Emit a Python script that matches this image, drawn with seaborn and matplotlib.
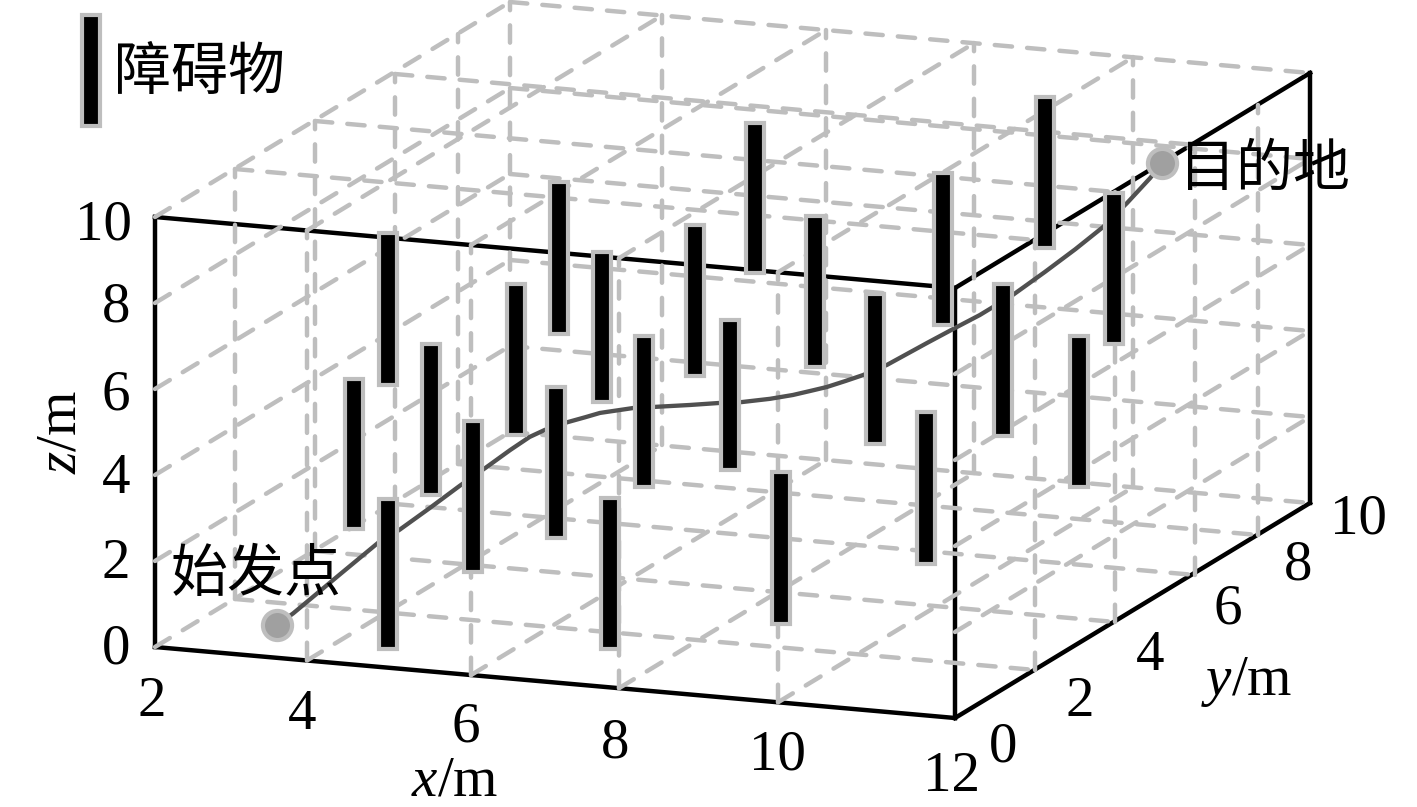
import numpy as np
import matplotlib
matplotlib.use("Agg")
import matplotlib.pyplot as plt
import seaborn as sns

# axis ticks
x_ticks = [2, 4, 6, 8, 10, 12]
y_ticks = [0, 2, 4, 6, 8, 10]
z_ticks = [0, 2, 4, 6, 8, 10]

# obstacles
obs_x = [4.01, 4.09, 4.05, 4.70, 5.54, 4.60, 3.74, 5.57, 5.16, 7.14, 6.72, 5.80,
         7.34, 5.45, 9.03, 6.98, 8.70, 10.32, 8.26, 9.81, 9.06, 11.59, 10.37]
obs_y = [2, 1, 3, 0.6, 1, 4, 7, 3, 5, 1.36, 3, 6,
         4, 9, 2, 7, 5, 3, 8, 6, 9.5, 4, 8]
obs_z0 = [5.30, 2.52, 2.19, 0.06, 1.77, 3.12, 3.77, 1.45, 3.42, 0.03, 2.81, 3.60,
          2.75, 4.64, 0.55, 3.53, 3.01, 1.61, 4.24, 2.84, 5.60, 3.07, 4.15]
obs_z1 = [8.82, 6.00, 5.69, 3.55, 5.27, 6.62, 7.29, 4.94, 6.92, 3.53, 6.31, 7.10,
          6.24, 8.11, 4.07, 7.03, 6.51, 5.13, 7.76, 6.37, 9.10, 6.57, 7.65]

# planned path
path_x = [3.08, 3.22, 3.61, 3.93, 4.10, 4.34, 4.57, 4.77, 4.96, 5.11, 5.23, 5.41,
          5.55, 5.66, 5.93, 6.10, 6.40, 6.66, 6.85, 7.09, 7.29, 7.44, 7.58, 7.76,
          7.93, 8.15, 8.51, 8.76, 8.98, 9.28, 9.57, 9.86, 10.11, 10.32, 10.52, 10.62]
path_y = [1.00, 1.14, 1.57, 1.91, 2.11, 2.38, 2.65, 2.88, 3.11, 3.29, 3.42, 3.62,
          3.78, 3.92, 4.24, 4.42, 4.73, 5.00, 5.20, 5.46, 5.66, 5.82, 5.97, 6.13,
          6.29, 6.51, 6.88, 7.13, 7.36, 7.65, 7.94, 8.21, 8.47, 8.68, 8.89, 9.00]
path_z = [0.12, 0.34, 1.07, 1.66, 1.88, 2.28, 2.68, 3.00, 3.32, 3.55, 3.66, 3.76,
          3.81, 3.85, 3.84, 3.79, 3.71, 3.65, 3.59, 3.56, 3.57, 3.60, 3.63, 3.72,
          3.81, 3.98, 4.38, 4.65, 4.88, 5.26, 5.71, 6.18, 6.64, 7.16, 7.70, 8.03]

# where the ticks land on the page (the drawing is an oblique view, spacing is uneven)
x_screen = [0, 152, 316, 464, 623, 800]
y_screen_dx = [0, 80, 160, 240, 303, 355]
y_screen_dy = [0, 48, 96, 143, 183, 215]


def proj(x, y, z):
    sx = np.interp(x, x_ticks, x_screen)
    px = 155 + sx + np.interp(y, y_ticks, y_screen_dx)
    py = 647 + 0.08875 * sx - np.interp(y, y_ticks, y_screen_dy) - 43 * np.asarray(z, dtype=float)
    return px, py


sns.set_style("white")
plt.rcParams["font.family"] = ["Liberation Serif", "Noto Sans CJK SC"]
plt.rcParams["text.color"] = "black"
plt.rcParams["mathtext.fontset"] = "custom"
plt.rcParams["mathtext.it"] = "Liberation Serif:italic"
plt.rcParams["mathtext.rm"] = "Liberation Serif"

fig = plt.figure(figsize=(14.17, 8.07), dpi=100)
ax = fig.add_axes([0, 0, 1, 1])
ax.set_xlim(0, 1417)
ax.set_ylim(807, 0)
ax.axis("off")

GRAY = "#BEBEBE"


def seg(p0, p1, **kw):
    a = proj(*p0)
    b = proj(*p1)
    ax.plot([a[0], b[0]], [a[1], b[1]], **kw)


grid_kw = dict(color=GRAY, lw=3.2, linestyle=(0, (3.9, 3.4)), dash_capstyle="round", zorder=2)
frame_kw = dict(color="black", lw=3.2, zorder=1, solid_capstyle="projecting")

# dashed box grid
for z in z_ticks[:-1]:
    seg((2, 0, z), (2, 10, z), **grid_kw)
    seg((2, 10, z), (12, 10, z), **grid_kw)
    if z > 0:
        seg((12, 0, z), (12, 10, z), **grid_kw)
seg((2, 0, 10), (2, 10, 10), **grid_kw)
seg((2, 10, 10), (12, 10, 10), **grid_kw)
for x in x_ticks[1:-1]:
    seg((x, 0, 0), (x, 10, 0), **grid_kw)
    seg((x, 0, 10), (x, 10, 10), **grid_kw)
    seg((x, 0, 0), (x, 0, 10), **grid_kw)
    seg((x, 10, 0), (x, 10, 10), **grid_kw)
for y in y_ticks[1:-1]:
    seg((2, y, 0), (2, y, 10), **grid_kw)
    seg((12, y, 0), (12, y, 10), **grid_kw)
    seg((2, y, 0), (12, y, 0), **grid_kw)
    if y < 8:
        seg((2, y, 10), (12, y, 10), **grid_kw)
seg((2, 10, 0), (2, 10, 10), **grid_kw)

# solid frame
seg((2, 0, 0), (12, 0, 0), **frame_kw)
seg((2, 0, 10), (12, 0, 10), **frame_kw)
seg((2, 0, 0), (2, 0, 10), **frame_kw)
seg((12, 0, 0), (12, 0, 10), **frame_kw)
seg((12, 0, 0), (12, 10, 0), **frame_kw)
seg((12, 0, 10), (12, 10, 10), **frame_kw)
seg((12, 10, 0), (12, 10, 10), **frame_kw)

# path
px, py = proj(np.array(path_x), np.array(path_y), np.array(path_z))
path_df = {"px": px, "py": py}
sns.lineplot(data=path_df, x="px", y="py", sort=False, estimator=None, color="#505050",
             linewidth=3.1, ax=ax, zorder=3)
sns.scatterplot(x=[px[0], px[-1]], y=[py[0], py[-1]], s=440, color="#A0A0A0",
                edgecolor=GRAY, linewidth=3.0, ax=ax, zorder=4)
ax.set_xlabel("")
ax.set_ylabel("")

# obstacles
ox, otop = proj(np.array(obs_x), np.array(obs_y), np.array(obs_z1))
_, obot = proj(np.array(obs_x), np.array(obs_y), np.array(obs_z0))
ax.bar(ox, obot - otop, bottom=otop, width=18, color="black", edgecolor=GRAY, linewidth=3.0, zorder=5)
ax.bar([91], [111], bottom=[15], width=18, color="black", edgecolor=GRAY, linewidth=3.0, zorder=5)

# tick labels
fs = 41
x_lab_px = [(152, 702), (302, 715), (466, 727), (615, 743), (777, 755), (951, 777)]
y_lab_px = [(1003, 747), (1080, 702), (1150, 656), (1228, 610), (1298, 565), (1358, 520)]
z_lab_px = [(116, 650), (116, 564), (116, 479), (116, 395), (116, 308), (103, 225)]
for t, pos in zip(x_ticks, x_lab_px):
    ax.text(pos[0], pos[1], str(t), fontsize=fs, ha="center", va="center", zorder=6)
for t, pos in zip(y_ticks, y_lab_px):
    ax.text(pos[0], pos[1], str(t), fontsize=fs, ha="center", va="center", zorder=6)
for t, pos in zip(z_ticks, z_lab_px):
    ax.text(pos[0], pos[1], str(t), fontsize=fs, ha="center", va="center", zorder=6)

# axis names
ax.text(455, 796, r"$\mathit{x}$/m", fontsize=fs, ha="center", va="baseline", zorder=6)
ax.text(1247, 695, r"$\mathit{y}$/m", fontsize=fs, ha="center", va="baseline", zorder=6)
ax.text(87, 432, r"$\mathit{z}$/m", fontsize=fs, ha="right", va="center", rotation=90, zorder=6)

# annotations
ax.text(200, 74, "障碍物", fontsize=41, ha="center", va="center", zorder=6)
ax.text(256, 576, "始发点", fontsize=41, ha="center", va="center", zorder=6)
ax.text(1264, 172, "目的地", fontsize=41, ha="center", va="center", zorder=6)

fig.savefig("out.png", dpi=100)
